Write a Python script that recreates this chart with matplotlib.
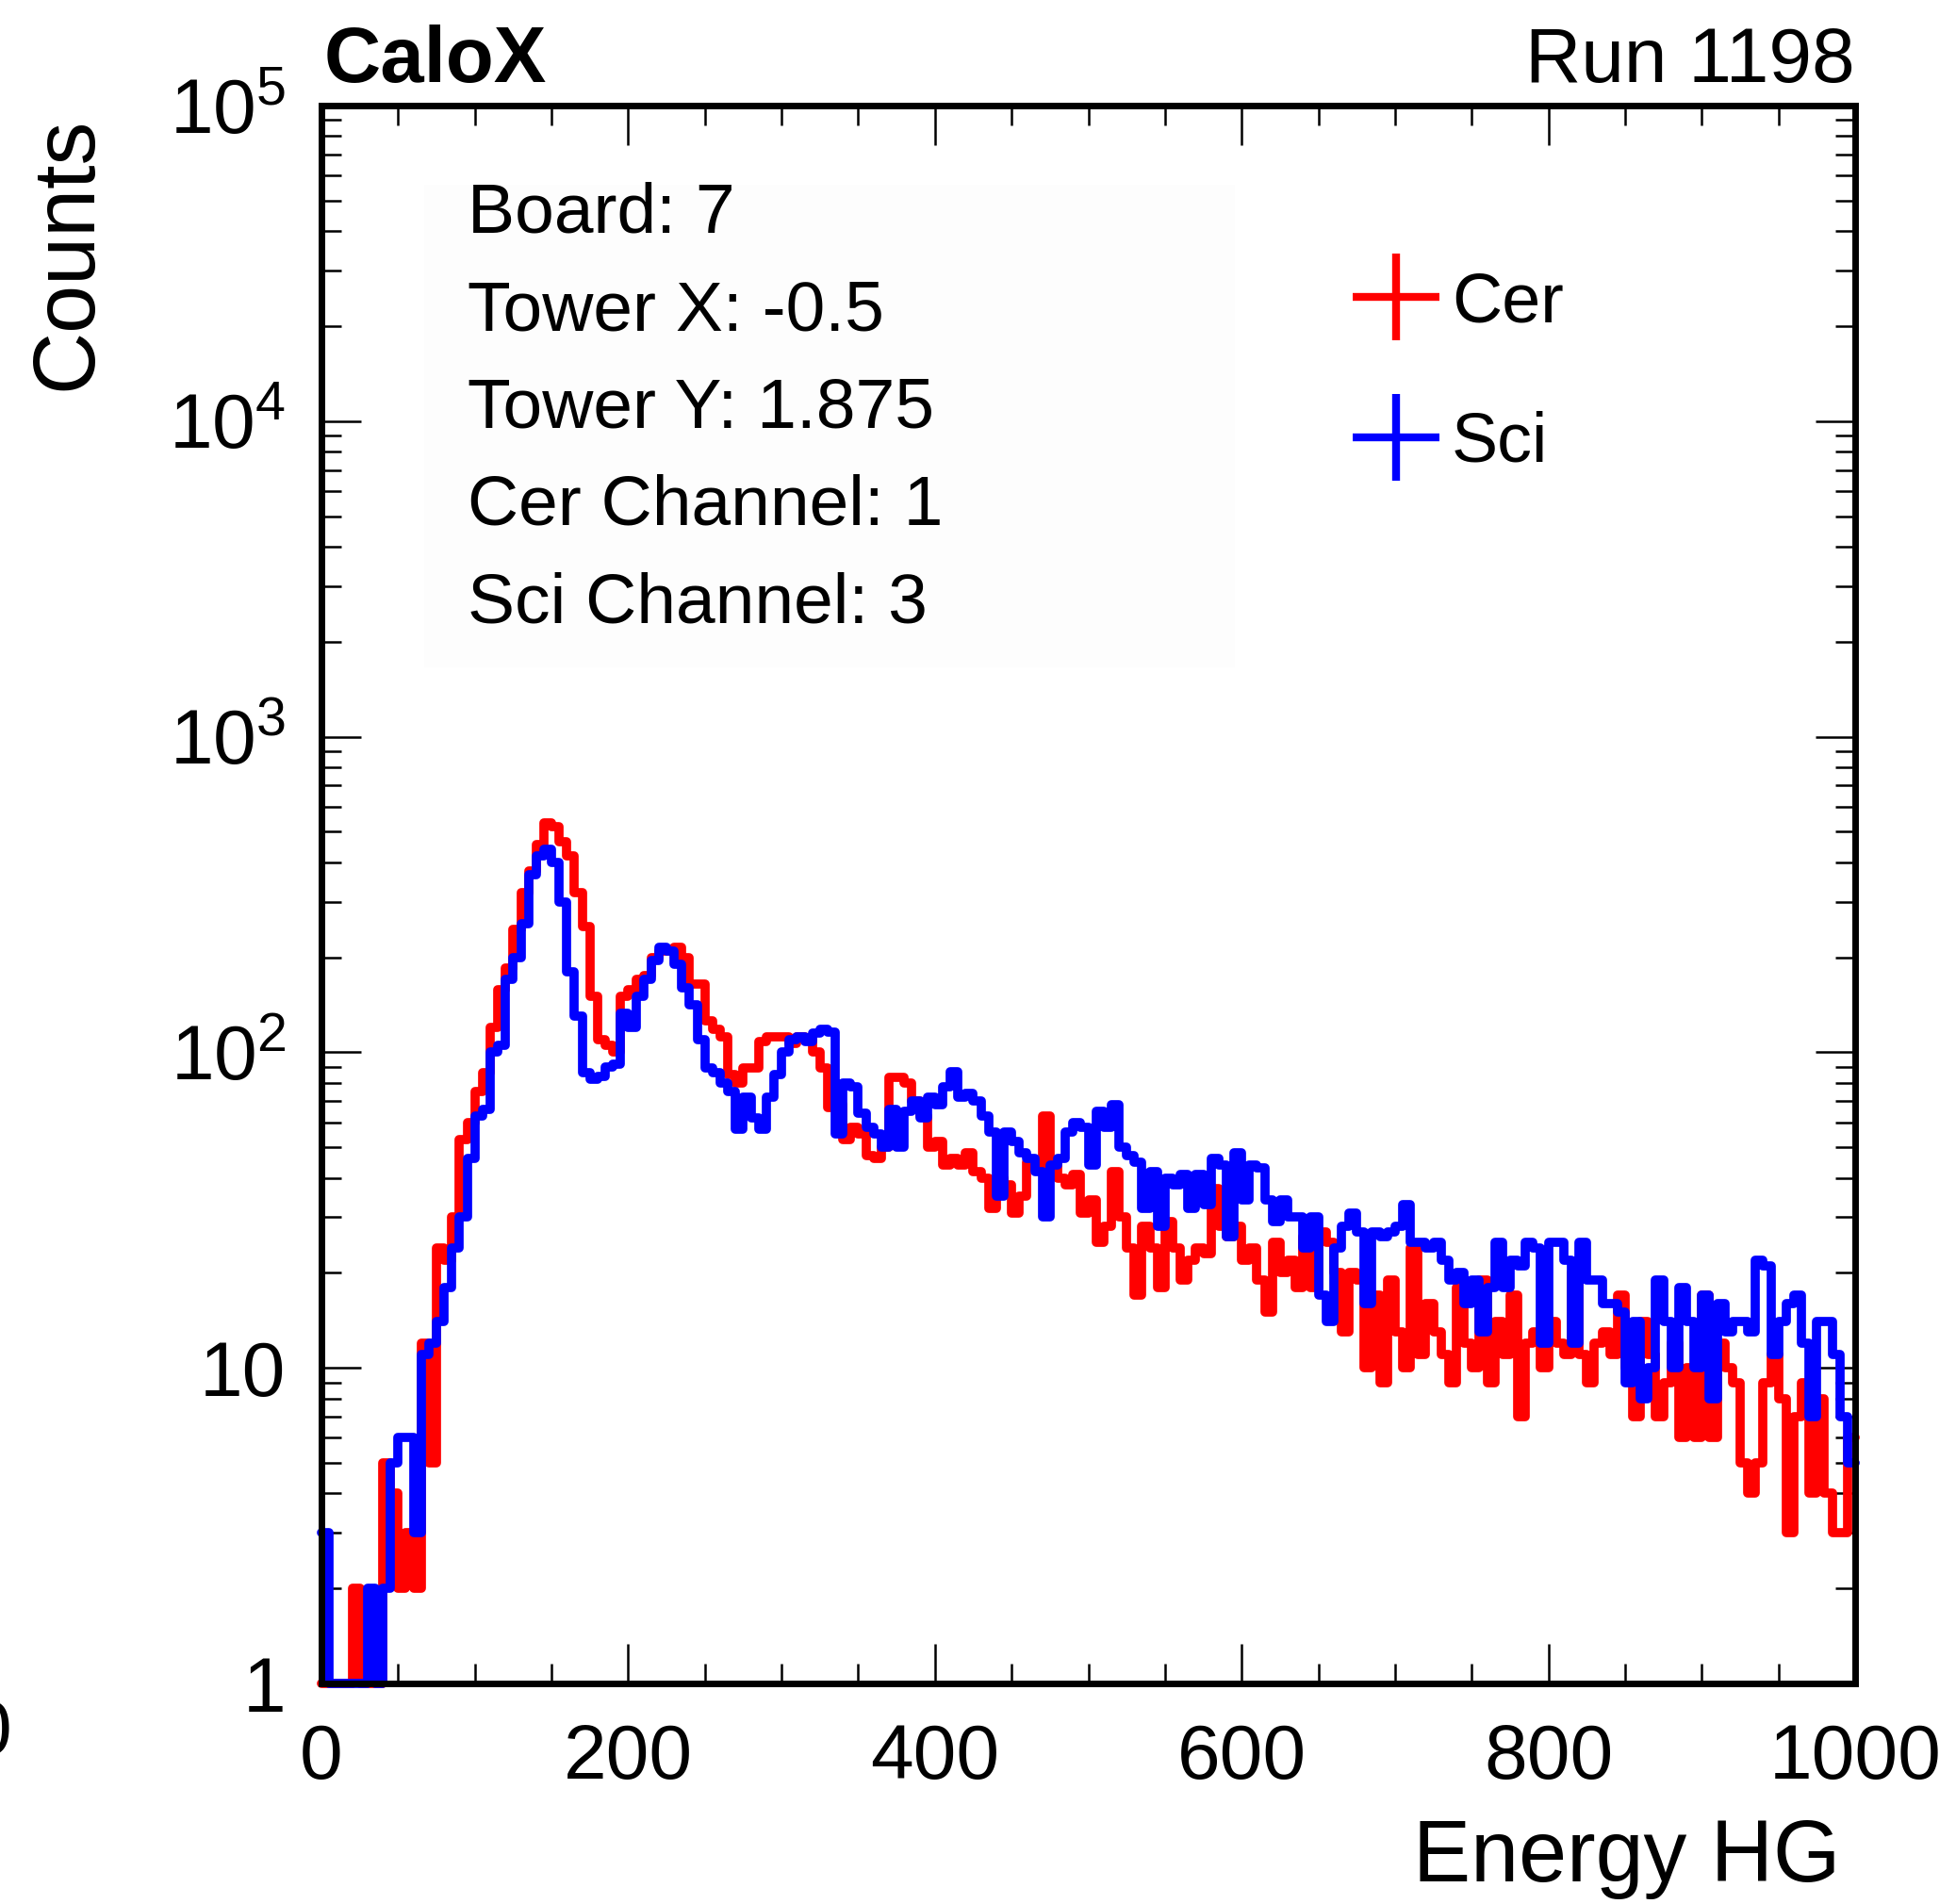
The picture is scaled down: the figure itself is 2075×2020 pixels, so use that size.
import matplotlib.pyplot as plt
import numpy as np
from matplotlib.lines import Line2D
from matplotlib.patches import Rectangle
from matplotlib.ticker import FixedLocator, FixedFormatter, LogLocator, NullFormatter, MultipleLocator

plt.rcParams['font.family'] = ['Liberation Sans', 'DejaVu Sans']
plt.rcParams['mathtext.fontset'] = 'custom'
plt.rcParams['mathtext.rm'] = 'Liberation Sans'

# energy HG histograms, 200 bins of width 5 between 0 and 1000
bin_width = 5
n_bins = 200

cer_counts = np.array([
    0, 0, 0, 0, 2, 0, 0, 1, 5, 4, 2, 3, 2, 12, 5, 24, 22, 30, 53, 60,
    75, 86, 120, 158, 185, 245, 320, 375, 455, 533, 520, 465, 420, 320, 250, 150, 110, 105, 100, 150,
    158, 170, 175, 200, 210, 210, 215, 200, 165, 165, 126, 118, 112, 85, 80, 89, 89, 108, 112, 112,
    112, 107, 112, 110, 100, 89, 67, 68, 53, 58, 55, 47, 46, 50, 83, 83, 80, 70, 63, 50,
    52, 44, 46, 44, 48, 42, 40, 32, 40, 38, 31, 35, 45, 43, 63, 45, 40, 38, 41, 31,
    34, 25, 28, 42, 30, 24, 17, 28, 24, 18, 29, 24, 19, 22, 24, 23, 37, 28, 26, 28,
    22, 24, 19, 15, 25, 20, 22, 18, 26, 18, 27, 25, 20, 13, 20, 19, 10, 17, 9, 19,
    13, 10, 24, 11, 16, 13, 11, 9, 18, 12, 10, 19, 9, 14, 11, 17, 7, 12, 13, 10,
    14, 12, 11, 20, 11, 9, 12, 13, 11, 17, 10, 7, 14, 11, 7, 9, 12, 6, 10, 6,
    17, 6, 12, 10, 9, 5, 4, 5, 9, 11, 8, 3, 7, 9, 4, 8, 4, 3, 3, 6,
])

sci_counts = np.array([
    3, 0, 0, 0, 0, 0, 2, 1, 2, 5, 6, 6, 3, 11, 12, 14, 18, 24, 30, 46,
    63, 66, 100, 105, 170, 200, 255, 365, 420, 440, 400, 300, 180, 130, 86, 82, 84, 90, 92, 133,
    120, 150, 170, 195, 215, 210, 190, 160, 141, 110, 89, 86, 80, 75, 57, 72, 62, 57, 72, 85,
    100, 110, 112, 108, 115, 118, 116, 55, 80, 78, 64, 58, 55, 50, 66, 50, 65, 70, 62, 72,
    68, 78, 87, 72, 74, 70, 63, 56, 35, 56, 52, 48, 46, 42, 30, 44, 46, 56, 60, 58,
    44, 65, 58, 68, 50, 47, 45, 32, 42, 28, 40, 38, 41, 32, 41, 33, 46, 44, 26, 48,
    34, 44, 43, 34, 29, 34, 30, 30, 24, 30, 17, 14, 24, 28, 31, 27, 16, 27, 26, 27,
    28, 33, 25, 25, 24, 25, 22, 19, 20, 16, 19, 13, 18, 25, 18, 22, 21, 25, 24, 12,
    25, 25, 22, 12, 25, 19, 19, 16, 16, 15, 9, 14, 8, 10, 19, 14, 10, 18, 14, 10,
    17, 8, 16, 13, 14, 14, 13, 22, 21, 11, 14, 16, 17, 12, 7, 14, 14, 11, 7, 5,
])

info_lines = ["Board: 7", "Tower X: -0.5", "Tower Y: 1.875", "Cer Channel: 1", "Sci Channel: 3"]
y_ticks = [1, 10, 1e2, 1e3, 1e4, 1e5]
y_tick_labels = ["1", "10", r"$\mathregular{10^{2}}$", r"$\mathregular{10^{3}}$",
                 r"$\mathregular{10^{4}}$", r"$\mathregular{10^{5}}$"]

edges = np.arange(n_bins + 1) * bin_width

W, H = 2075, 2020
fig = plt.figure(figsize=(W / 100, H / 100), dpi=100)
ax = fig.add_axes([341 / W, 1 - 1786 / H, (1968 - 341) / W, (1786 - 112) / H])

# empty bins sit on the lower edge of the log axis, like ROOT does
ax.stairs(np.clip(cer_counts, 1, None), edges, baseline=None, color='#ff0000',
          linewidth=7, joinstyle='round', capstyle='round', clip_on=False, zorder=2)
ax.stairs(np.clip(sci_counts, 1, None), edges, baseline=None, color='#0000ff',
          linewidth=7, joinstyle='round', capstyle='round', clip_on=False, zorder=2.1)

ax.set_xlim(0, 1000)
ax.set_yscale('log')
ax.set_ylim(1, 1e5)

ax.xaxis.set_major_locator(MultipleLocator(200))
ax.xaxis.set_minor_locator(MultipleLocator(50))
ax.yaxis.set_major_locator(FixedLocator(y_ticks))
ax.yaxis.set_major_formatter(FixedFormatter(y_tick_labels))
ax.yaxis.set_minor_locator(LogLocator(base=10, subs=np.arange(2, 10)))
ax.yaxis.set_minor_formatter(NullFormatter())

ax.tick_params(which='both', direction='in', top=True, right=True, width=1.8, labelsize=59)
ax.tick_params(which='major', length=30)
ax.tick_params(which='minor', length=15)
ax.tick_params(axis='x', which='major', pad=30)
ax.tick_params(axis='y', which='major', pad=27)
for s in ax.spines.values():
    s.set_linewidth(5)
    s.set_zorder(3)

# info box
ax.add_patch(Rectangle((0.0667, 0.644), 0.529, 0.306, transform=ax.transAxes,
                       facecolor='#fdfdfd', edgecolor='none', zorder=0.5))
for k, line in enumerate(info_lines):
    ax.text(0.095, 0.9194 - k * 0.0617, line, transform=ax.transAxes,
            fontsize=54, ha='left', va='baseline', zorder=4)

handles = [Line2D([], [], color='#ff0000', marker='+', markersize=66, markeredgewidth=6, linestyle='none'),
           Line2D([], [], color='#0000ff', marker='+', markersize=66, markeredgewidth=6, linestyle='none')]
ax.legend(handles, ["Cer", "Sci"], loc='upper left', bbox_to_anchor=(0.66, 0.913),
          frameon=False, fontsize=53, handlelength=1.0, handletextpad=0.3,
          labelspacing=1.08, borderaxespad=0)

fig.text(344 / W, 1 - 87 / H, "CaloX", fontsize=60, fontweight='bold', ha='left', va='baseline')
fig.text(1968 / W, 1 - 87 / H, "Run 1198", fontsize=59, ha='right', va='baseline')
fig.text(1952 / W, 1 - 1996 / H, "Energy HG", fontsize=66, ha='right', va='baseline')
fig.text(72 / W, 1 - 124 / H, "Counts", fontsize=66, rotation=90, ha='center', va='top')
fig.text(12 / W, 1 - 1840 / H, "0", fontsize=59, ha='right', va='center')

fig.savefig("out.png", dpi=100)
